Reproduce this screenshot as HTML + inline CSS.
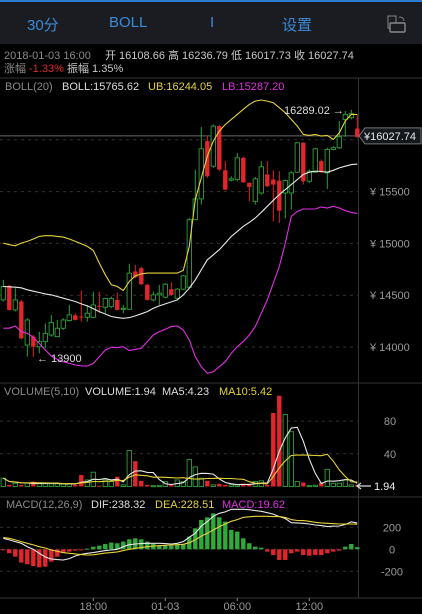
<!DOCTYPE html>
<html><head><meta charset="utf-8">
<style>
html,body{margin:0;padding:0;background:#000;}
body{width:422px;height:614px;overflow:hidden;position:relative;font-family:"Liberation Sans","Noto Sans CJK SC",sans-serif;}
#top{position:absolute;left:0;top:0;width:422px;height:44px;background:#1b1c21;border-top:2px solid #2a7fd4;box-sizing:border-box;}
.tab{position:absolute;top:12px;color:#3d8ad6;font-size:15px;}
svg{position:absolute;left:0;top:0;}
</style></head>
<body>
<div id="top">
  <span class="tab" style="left:27px">30分</span>
  <span class="tab" style="left:109px">BOLL</span>
  <span class="tab" style="left:210px">I</span>
  <span class="tab" style="left:282px">设置</span>
  <svg style="left:386px;top:13px" width="22" height="20" viewBox="0 0 22 20">
    <rect x="2" y="1" width="8" height="12" fill="none" stroke="#777" stroke-width="1.2"/>
    <rect x="4" y="8" width="15" height="9" rx="1" fill="#1b1c21" stroke="#888" stroke-width="1.4"/>
    <path d="M13 2 q5 0 5 4" fill="none" stroke="#777" stroke-width="1"/>
  </svg>
</div>
<svg id="chart" width="422" height="614"></svg>
<script>
const prices_open=[14455,14590,14358,14439,14019,14100,14003,14052,14116,14100,14181,14255,14306,14294,14287,14287,14397,14384,14390,14455,14364,14364,14729,14761,14600,14455,14503,14481,14558,14471,14558,14577,15229,15429,15987,15745,16132,15706,15610,15616,15826,15584,15406,15487,15665,15616,15606,15487,15487,15687,15971,15600,15687,15794,15681,15907,15923,16197,16213,16108.66];
const prices_close=[14584,14358,14455,14084,14261,14003,14052,14132,14235,14181,14261,14310,14261,14287,14326,14406,14390,14468,14468,14358,14374,14713,14674,14606,14455,14503,14519,14606,14503,14558,14687,15229,15429,15913,15648,16132,15713,15519,15623,15826,15590,15545,15623,15739,15552,15568,15316,15606,15681,15971,15600,15697,15913,15687,15907,15923,16029,16245,16252,16027.74];
const prices_high=[14648,14600,14568,14455,14277,14116,14148,14229,14310,14261,14277,14406,14326,14545,14406,14535,14535,14471,14487,14526,14406,14803,14794,14777,14610,14535,14600,14616,14623,14568,14697,15245,15713,16123,16036,16149,16139,15794,15648,15874,15836,15590,15642,15794,15794,15706,15697,15616,15697,15977,15977,15713,15923,15810,15923,15939,16181,16278,16289.02,16236.79];
const prices_low=[14439,14352,14342,14074,13906,13906,13939,13987,14100,14094,14165,14245,14255,14245,14245,14277,14326,14326,14374,14352,14326,14358,14664,14597,14448,14439,14406,14471,14494,14461,14552,14568,15365,15374,15632,15729,15697,15513,15600,15600,15584,15406,15374,15471,15545,15213,15197,15242,15326,15681,15568,15584,15681,15681,15526,15900,15913,16029,16197,16017.73];
const boll_upper=[15003,14987,14977,15003,15019,15042,15068,15074,15074,15068,15061,15042,15019,14997,14971,14932,14810,14697,14600,14584,14545,14632,14687,14706,14713,14713,14713,14713,14713,14713,14739,14971,15423,15632,15842,15987,16084,16148,16197,16245,16294,16342,16374,16384,16374,16358,16310,16261,16197,16132,16052,16042,16052,16036,16042,16003,16068,16181,16245,16244.05];
const boll_mid=[14584,14581,14577,14571,14552,14539,14526,14513,14503,14487,14471,14455,14439,14416,14397,14371,14342,14319,14294,14284,14277,14284,14300,14320,14342,14374,14397,14416,14435,14455,14503,14568,14648,14745,14842,14890,14939,15003,15068,15116,15165,15203,15245,15300,15358,15416,15471,15519,15568,15616,15665,15687,15697,15694,15687,15706,15729,15745,15761,15765.62];
const boll_lower=[14181,14181,14203,14148,14132,14094,14035,13971,13913,13881,13858,13842,13826,13819,13816,13842,13906,13971,13997,13994,14003,13965,13977,13987,14052,14116,14148,14171,14197,14203,14165,14068,13906,13810,13745,13761,13810,13858,13939,14003,14052,14116,14197,14326,14455,14616,14777,15003,15261,15310,15332,15332,15332,15352,15342,15358,15342,15316,15300,15287.20];
const volumes=[10.2,2,4,2,4,6,3.3,3.3,3.3,3.3,3.3,3.3,2,14,8,17.5,1,8,6,12,2,44,31,7,2,1,1,6,2,8,6,33,24,10,7,2,3.3,2,2,2,3.3,3.3,6,7,2,90,111,88,67,6,5,1,1.6,5,21,4,4,8,2,1.94];
const macd_hist=[-6,-36,-67,-121,-136,-152,-164,-158,-112,-67,-36,-21,-12,-6,6,24,33,48,61,55,70,91,100,91,70,48,36,33,33,42,48,115,191,267,291,327,291,252,176,161,100,55,24,15,-21,-52,-97,-97,-36,-21,-52,-58,-52,-52,-36,-21,-12,24,48,19.62];
const macd_dif=[100,85,70,55,24,0,-36,-70,-88,-94,-97,-85,-61,-45,-36,-30,-21,-12,-6,0,24,42,48,52,55,55,55,52,48,55,70,110,145,210,252,300,327,340,364,364,364,360,352,345,333,320,297,280,242,240,236,230,221,215,206,210,212,225,250,238.32];
const macd_dea=[106,100,85,70,55,40,24,12,-6,-18,-30,-36,-42,-48,-52,-50,-42,-35,-30,-24,-12,0,9,15,24,30,33,36,39,42,45,60,85,120,145,175,206,230,255,270,291,295,300,300,300,297,297,290,270,262,261,255,245,240,236,233,230,230,230,228.51];
const price_ticks=[14000,14500,15000,15500];
const price_tick_labels=["¥ 14000","¥ 14500","¥ 15000","¥ 15500"];
const vol_ticks=[40,80];
const vol_tick_labels=["40","80"];
const macd_ticks=[-200,0,200];
const macd_tick_labels=["-200","0","200"];
const time_idx=[15,27,39,51];
const time_labels=["18:00","01-03","06:00","12:00"];
const last_price=16027.74, max_price=16289.02, min_price=13900;

const NS="http://www.w3.org/2000/svg";
const svg=document.getElementById('chart');
function el(tag,attrs,parent){const e=document.createElementNS(NS,tag);for(const k in attrs)e.setAttribute(k,attrs[k]);(parent||svg).appendChild(e);return e;}
function tx(x,y,s,fill,size,anchor){const t=el('text',{x:x,y:y,fill:fill,'font-size':size||11,'text-anchor':anchor||'start','font-family':'Liberation Sans, Noto Sans CJK SC, sans-serif'});t.textContent=s;return t;}
const xOf=i=>3.3+6*i;
const yP=p=>347-(p-14000)*0.1036;
const yV=v=>486.5-v*0.8175;
const yM=m=>549.3-m*0.11;
const RED="#e0262a",GREEN="#2f9e3c";

// header info
let t;
t=tx(4,59,"2018-01-03 16:00","#8a8a8a",11);
t=tx(105,59,"开 16108.66 高 16236.79 低 16017.73 收 16027.74","#c8c8c8",11);
t=tx(4,72,"涨幅","#8a8a8a",11);
t=tx(29,72,"-1.33%",RED,11);
t=tx(67,72,"振幅 1.35%","#c8c8c8",11);

// frame lines
let l;
l=el('line',{x1:0,y1:78,x2:422,y2:78,stroke:'#333','stroke-width':1});
l=el('line',{x1:0,y1:383,x2:422,y2:383,stroke:'#333','stroke-width':1});
l=el('line',{x1:0,y1:497,x2:422,y2:497,stroke:'#333','stroke-width':1});
l=el('line',{x1:0,y1:598,x2:422,y2:598,stroke:'#333','stroke-width':1});
l=el('line',{x1:358.5,y1:78,x2:358.5,y2:598,stroke:'#333','stroke-width':1});

// legends
t=tx(5,90,"BOLL(20)","#8a8a8a",11);
t=tx(62,90,"BOLL:15765.62","#ddd",11);
t=tx(148,90,"UB:16244.05","#e6d23a",11);
t=tx(222,90,"LB:15287.20","#e030e0",11);
t=tx(4,395,"VOLUME(5,10)","#8a8a8a",11);
t=tx(85,395,"VOLUME:1.94","#ddd",11);
t=tx(162,395,"MA5:4.23","#ddd",11);
t=tx(219,395,"MA10:5.42","#e6d23a",11);
t=tx(6,508,"MACD(12,26,9)","#8a8a8a",11);
t=tx(91,508,"DIF:238.32","#ddd",11);
t=tx(155,508,"DEA:228.51","#e6d23a",11);
t=tx(222,508,"MACD:19.62","#e030e0",11);

// grid + ticks
price_ticks.forEach((p,k)=>{
  const g=el('line',{x1:0,y1:yP(p),x2:358,y2:yP(p),stroke:'#333','stroke-dasharray':'3,4'});
  
  const tt=tx(370,yP(p)+4,price_tick_labels[k],"#9a9a9a",11);
  
});
{const g=el('line',{x1:0,y1:yP(16000),x2:358,y2:yP(16000),stroke:'#333','stroke-dasharray':'3,4'});
}
vol_ticks.forEach((v,k)=>{
  const g=el('line',{x1:0,y1:yV(v),x2:358,y2:yV(v),stroke:'#333','stroke-dasharray':'3,4'});
  
  const tt=tx(390,yV(v)+4,vol_tick_labels[k],"#9a9a9a",11,'middle');
  
});
macd_ticks.forEach((m,k)=>{
  const g=el('line',{x1:0,y1:yM(m),x2:358,y2:yM(m),stroke:'#333','stroke-dasharray':'3,4'});
  
  const tt=tx(392,yM(m)+4,macd_tick_labels[k],"#9a9a9a",11,'middle');
  
});
time_idx.forEach((i,k)=>{
  const tt=tx(xOf(i),610,time_labels[k],"#9a9a9a",11,'middle');
  
  const tk=el('line',{x1:xOf(i),y1:598,x2:xOf(i),y2:601,stroke:'#888'});
  
});

// last price line
l=el('line',{x1:0,y1:yP(last_price)-1,x2:358,y2:yP(last_price)-1,stroke:'#666','stroke-width':1});


// candles
for(let i=0;i<prices_open.length;i++){
  const o=prices_open[i],c=prices_close[i],up=c>=o,col=up?GREEN:RED,x=xOf(i);
  const w=el('line',{x1:x,y1:yP(prices_high[i]),x2:x,y2:yP(prices_low[i]),stroke:col,'stroke-width':1});
  
  const top=yP(Math.max(o,c)),h=Math.max(1,yP(Math.min(o,c))-top);
  const r=el('rect',{x:x-2.2,y:top,width:4.4,height:h,fill:up?'#000':col,stroke:col,'stroke-width':up?0.9:0});
  
}
function line(arr,fy,color,name){
  const d=arr.map((v,i)=>(i?'L':'M')+xOf(i).toFixed(1)+' '+fy(v).toFixed(1)).join(' ');
  const p=el('path',{d:d,fill:'none',stroke:color,'stroke-width':1.1});
  
}
line(boll_upper,yP,'#e6d23a','boll-upper-band');
line(boll_mid,yP,'#e8e8e8','boll-middle-band');
line(boll_lower,yP,'#e030e0','boll-lower-band');

// max/min annotations
t=tx(284,114,"16289.02 →","#ddd",11);
t=tx(37,362,"← 13900","#ddd",11);

// current price label
{const y=yP(last_price)-1;
const p=el('path',{d:`M359 ${y} L365 ${y-8} L421 ${y-8} L421 ${y+8} L365 ${y+8} Z`,fill:'#14171c',stroke:'#777','stroke-width':1});

const tt=tx(364,y+4,"¥16027.74","#e8e8e8",11);}

// volume bars
for(let i=0;i<volumes.length;i++){
  const up=prices_close[i]>=prices_open[i],col=up?GREEN:RED,x=xOf(i);
  const top=yV(volumes[i]),h=Math.max(1,yV(0)-top);
  const r=el('rect',{x:x-2.2,y:top,width:4.4,height:h,fill:up?'#000':col,stroke:col,'stroke-width':up?0.9:0});
  
}
function ma(arr,n){return arr.map((v,i)=>{const s=arr.slice(Math.max(0,i-n+1),i+1);return s.reduce((a,b)=>a+b,0)/s.length;});}
line(ma(volumes,5),yV,'#e8e8e8','volume-ma5-line');
line(ma(volumes,10),yV,'#e6d23a','volume-ma10-line');
t=tx(374,490,"1.94","#eee",11);
l=el('path',{d:'M357 486 L371 486 M361 483 L357 486 L361 489',fill:'none',stroke:'#ddd','stroke-width':1.2});


// macd
for(let i=0;i<macd_hist.length;i++){
  const m=macd_hist[i],col=m>=0?'#2eaa38':RED,x=xOf(i);
  const top=Math.min(yM(m),yM(0)),h=Math.max(1,Math.abs(yM(m)-yM(0)));
  const r=el('rect',{x:x-2.2,y:top,width:4.4,height:h,fill:col});
  
}
line(macd_dif,yM,'#e8e8e8','macd-dif-line');
line(macd_dea,yM,'#e6d23a','macd-dea-line');
</script>
</body></html>
